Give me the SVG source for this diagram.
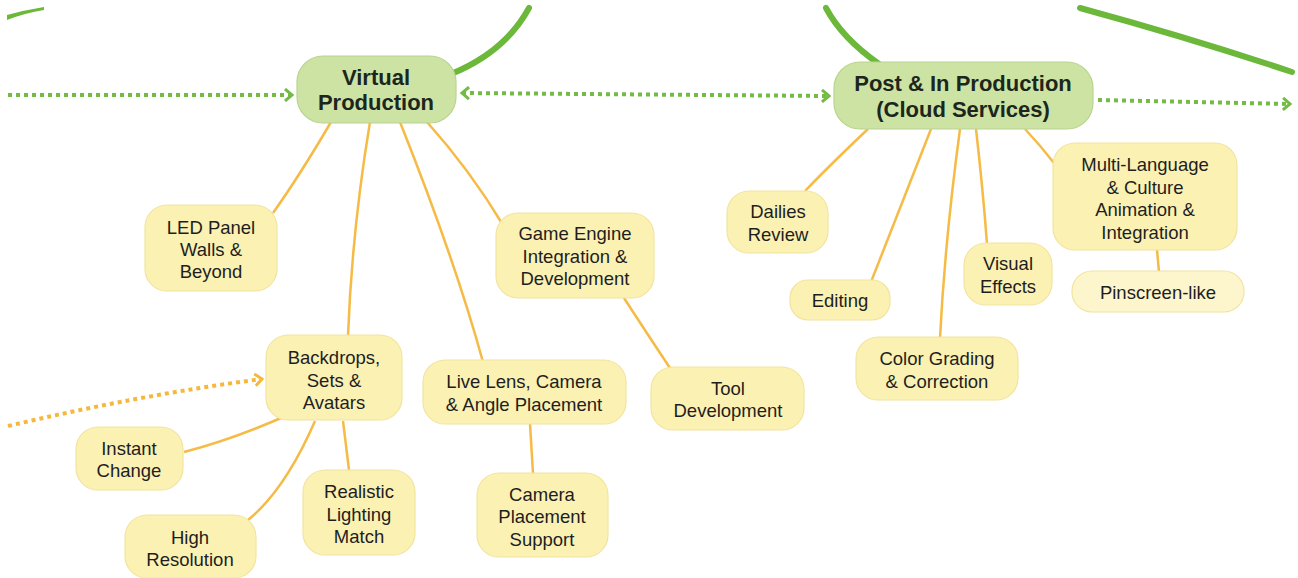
<svg xmlns="http://www.w3.org/2000/svg" width="1298" height="578" viewBox="0 0 1298 578">
<defs>
<style>
.g{fill:#cde3a4;stroke:#b9d48f;stroke-width:1.2}
.y{fill:#fbf1b3;stroke:#f2e4a0;stroke-width:1.2}
.yl{fill:#fdf5cc;stroke:#f2e4a0;stroke-width:1.2}
.gt{font-family:"Liberation Sans",Arial,sans-serif;font-weight:bold;font-size:22px;fill:#1c261c;text-anchor:middle}
.yt{font-family:"Liberation Sans",Arial,sans-serif;font-size:18.5px;fill:#1e1e1e;text-anchor:middle}
.thick{fill:none;stroke:#6cb83a;stroke-width:6;stroke-linecap:round}
.gd{fill:none;stroke:#74bb45;stroke-width:4;stroke-dasharray:4 4}
.yd{fill:none;stroke:#f5b83d;stroke-width:4;stroke-dasharray:4 4}
.c{fill:none;stroke:#f5bb45;stroke-width:2.5}
</style>
<marker id="ga" markerWidth="12" markerHeight="14" refX="9" refY="7" orient="auto" markerUnits="userSpaceOnUse">
<path d="M2,1 L9,7 L2,13" fill="none" stroke="#74bb45" stroke-width="3"/>
</marker>
<marker id="gs" markerWidth="12" markerHeight="14" refX="3" refY="7" orient="auto" markerUnits="userSpaceOnUse">
<path d="M10,1 L3,7 L10,13" fill="none" stroke="#74bb45" stroke-width="3"/>
</marker>
<marker id="ya" markerWidth="12" markerHeight="14" refX="9" refY="7" orient="auto" markerUnits="userSpaceOnUse">
<path d="M2,1 L9,7 L2,13" fill="none" stroke="#f5b83d" stroke-width="3"/>
</marker>
</defs>
<rect width="1298" height="578" fill="#fff"/>
<g id="connectors">
<path d="M7,15 Q25,10 44,7 L44,10 Q25,13 7,20 Z" fill="#6cb83a"/>
<path class="thick" d="M451,74 Q505,52 529,8"/>
<path class="thick" d="M879,64 Q842,38 826,8"/>
<path class="thick" d="M1080,8 Q1190,38 1292,72"/>
<path class="gd" d="M8,95 L292,95" marker-end="url(#ga)"/>
<path class="gd" d="M462,93 L829,96" marker-start="url(#gs)" marker-end="url(#ga)"/>
<path class="gd" d="M1098,100 L1290,104" marker-end="url(#ga)"/>
<path class="yd" d="M8,426 Q140,395 262,379" marker-end="url(#ya)"/>
<path class="c" d="M331,122 Q300,175 273,213"/>
<path class="c" d="M370,122 Q352,230 348,336"/>
<path class="c" d="M400,122 Q455,260 483,362"/>
<path class="c" d="M427,122 Q470,170 503,225"/>
<path class="c" d="M624,298 Q648,335 670,368"/>
<path class="c" d="M530,424 L533,473"/>
<path class="c" d="M281,418 Q230,440 184,452"/>
<path class="c" d="M315,421 Q285,490 248,520"/>
<path class="c" d="M343,421 L349,470"/>
<path class="c" d="M868,129 Q830,165 805,191"/>
<path class="c" d="M931,129 Q895,220 871,282"/>
<path class="c" d="M960,129 Q945,240 940,338"/>
<path class="c" d="M976,129 Q983,190 987,244"/>
<path class="c" d="M1025,129 Q1040,145 1054,163"/>
<path class="c" d="M1157,250 L1159,272"/>
</g>
<g id="vp"><rect class="g" x="297" y="56" width="159" height="67" rx="26"/><text class="gt"><tspan x="376" y="85">Virtual</tspan><tspan x="376" y="110">Production</tspan></text></g>
<g id="post"><rect class="g" x="834" y="62" width="259" height="67" rx="26"/><text class="gt"><tspan x="963" y="91">Post &amp; In Production</tspan><tspan x="963" y="117">(Cloud Services)</tspan></text></g>
<g id="led"><rect class="y" x="145" y="205" width="132" height="86" rx="22"/><text class="yt"><tspan x="211" y="234">LED Panel</tspan><tspan x="211" y="256">Walls &amp;</tspan><tspan x="211" y="278">Beyond</tspan></text></g>
<g id="game"><rect class="y" x="496" y="213" width="158" height="85" rx="22"/><text class="yt"><tspan x="575" y="240">Game Engine</tspan><tspan x="575" y="263">Integration &amp;</tspan><tspan x="575" y="285">Development</tspan></text></g>
<g id="backdrops"><rect class="y" x="266" y="335" width="136" height="85" rx="22"/><text class="yt"><tspan x="334" y="364">Backdrops,</tspan><tspan x="334" y="387">Sets &amp;</tspan><tspan x="334" y="409">Avatars</tspan></text></g>
<g id="live"><rect class="y" x="423" y="360" width="203" height="64" rx="22"/><text class="yt"><tspan x="524" y="388">Live Lens, Camera</tspan><tspan x="524" y="411">&amp; Angle Placement</tspan></text></g>
<g id="tool"><rect class="y" x="651" y="367" width="153" height="63" rx="22"/><text class="yt"><tspan x="728" y="395">Tool</tspan><tspan x="728" y="417">Development</tspan></text></g>
<g id="instant"><rect class="y" x="76" y="427" width="107" height="63" rx="22"/><text class="yt"><tspan x="129" y="455">Instant</tspan><tspan x="129" y="477">Change</tspan></text></g>
<g id="high"><rect class="y" x="125" y="515" width="131" height="63" rx="22"/><text class="yt"><tspan x="190" y="544">High</tspan><tspan x="190" y="566">Resolution</tspan></text></g>
<g id="realistic"><rect class="y" x="303" y="470" width="112" height="85" rx="22"/><text class="yt"><tspan x="359" y="498">Realistic</tspan><tspan x="359" y="521">Lighting</tspan><tspan x="359" y="543">Match</tspan></text></g>
<g id="campl"><rect class="y" x="477" y="473" width="131" height="84" rx="22"/><text class="yt"><tspan x="542" y="501">Camera</tspan><tspan x="542" y="523">Placement</tspan><tspan x="542" y="546">Support</tspan></text></g>
<g id="dailies"><rect class="y" x="727" y="191" width="101" height="62" rx="22"/><text class="yt"><tspan x="778" y="218">Dailies</tspan><tspan x="778" y="241">Review</tspan></text></g>
<g id="editing"><rect class="y" x="790" y="280" width="100" height="40" rx="18"/><text class="yt"><tspan x="840" y="307">Editing</tspan></text></g>
<g id="color"><rect class="y" x="856" y="337" width="162" height="63" rx="22"/><text class="yt"><tspan x="937" y="365">Color Grading</tspan><tspan x="937" y="388">&amp; Correction</tspan></text></g>
<g id="vfx"><rect class="y" x="964" y="243" width="88" height="62" rx="22"/><text class="yt"><tspan x="1008" y="270">Visual</tspan><tspan x="1008" y="293">Effects</tspan></text></g>
<g id="multi"><rect class="y" x="1053" y="143" width="184" height="107" rx="22"/><text class="yt"><tspan x="1145" y="171">Multi-Language</tspan><tspan x="1145" y="194">&amp; Culture</tspan><tspan x="1145" y="216">Animation &amp;</tspan><tspan x="1145" y="239">Integration</tspan></text></g>
<g id="pin"><rect class="yl" x="1072" y="271" width="172" height="41" rx="20"/><text class="yt"><tspan x="1158" y="299">Pinscreen-like</tspan></text></g>
</svg>
